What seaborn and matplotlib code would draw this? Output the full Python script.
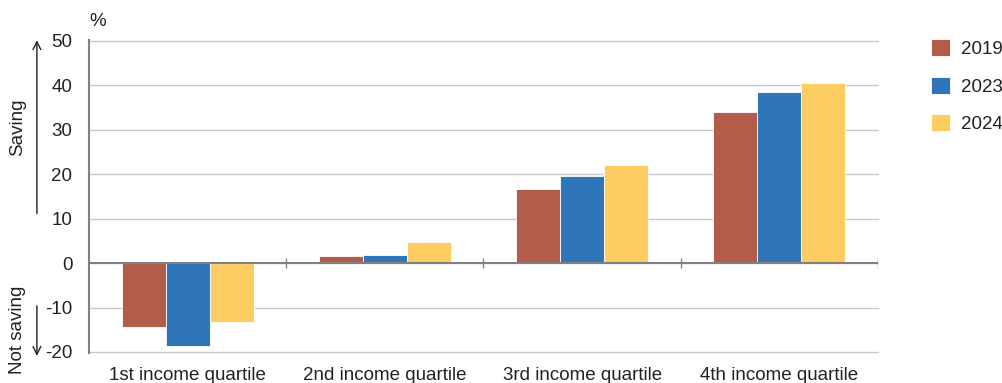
import pandas as pd
import matplotlib.pyplot as plt
import seaborn as sns

# values (% of households)
quartiles = ["1st income quartile", "2nd income quartile",
             "3rd income quartile", "4th income quartile"]
years = ["2019", "2023", "2024"]
share_2019 = [-14.4, 1.6, 16.7, 34.0]
share_2023 = [-18.7, 1.8, 19.6, 38.5]
share_2024 = [-13.3, 4.7, 22.1, 40.5]

colors = {"2019": "#B35C4A", "2023": "#2E75BA", "2024": "#FDCD64"}

df = pd.DataFrame({
    "Quartile": quartiles * 3,
    "Year": [y for y in years for _ in quartiles],
    "Value": share_2019 + share_2023 + share_2024,
})

sns.set_style("white")
plt.rcParams["font.family"] = ["Liberation Sans", "DejaVu Sans"]
plt.rcParams["axes.unicode_minus"] = False

fs = 13.5

fig = plt.figure(figsize=(10.03, 3.83), dpi=100)
ax = fig.add_axes([0.0887, 0.081, 0.7866, 0.812])

sns.barplot(data=df, x="Quartile", y="Value", hue="Year", palette=colors,
            width=0.67, saturation=1, ax=ax, edgecolor="white", linewidth=0.6)

ax.set_ylim(-20, 50)
ax.set_xlim(-0.5, 3.5)
ax.set_yticks(range(-20, 51, 10))
ax.grid(axis="y", color="#C8C8C8", linewidth=1)
ax.set_axisbelow(True)
for s in ["top", "right", "bottom"]:
    ax.spines[s].set_visible(False)
ax.spines["left"].set_color("#808080")
ax.spines["left"].set_linewidth(1.5)
ax.spines["left"].set_bounds(-20.3, 50.3)
for g in ax.get_ygridlines():
    g.set_clip_on(False)

# zero line with category separators
ax.axhline(0, color="#808080", linewidth=1.5, zorder=3)
ax.vlines([0.5, 1.5, 2.5, 3.5], -1.2, 1.2, color="#808080", linewidth=1, zorder=3)

ax.tick_params(axis="y", length=0, labelsize=fs, colors="#222222", pad=12)
ax.tick_params(axis="x", length=0, labelsize=fs, colors="#222222", pad=11)
ax.set_xlabel("")
ax.set_ylabel("")
ax.text(0.0, 1.035, "%", transform=ax.transAxes, fontsize=fs, color="#222222",
        ha="left", va="bottom")

# saving / not saving arrows
arrow = dict(arrowstyle="->", color="#222222", lw=1, mutation_scale=14)
ax.annotate("", xy=(-0.066, 50.8), xytext=(-0.066, 10.5),
            xycoords=("axes fraction", "data"), arrowprops=arrow, annotation_clip=False)
ax.annotate("", xy=(-0.066, -21.5), xytext=(-0.066, -9),
            xycoords=("axes fraction", "data"), arrowprops=arrow, annotation_clip=False)
ax.text(-0.09, 30.5, "Saving", rotation=90, ha="center", va="center", fontsize=fs,
        color="#222222", transform=ax.get_yaxis_transform())
ax.text(-0.09, -15, "Not saving", rotation=90, ha="center", va="center", fontsize=fs,
        color="#222222", transform=ax.get_yaxis_transform())

ax.legend(title=None, frameon=False, loc="upper left", bbox_to_anchor=(1.046, 1.06),
          fontsize=fs, handlelength=1.0, handleheight=1.0, labelspacing=1.0,
          handletextpad=0.6, labelcolor="#222222")

fig.savefig("out.png", dpi=100)
